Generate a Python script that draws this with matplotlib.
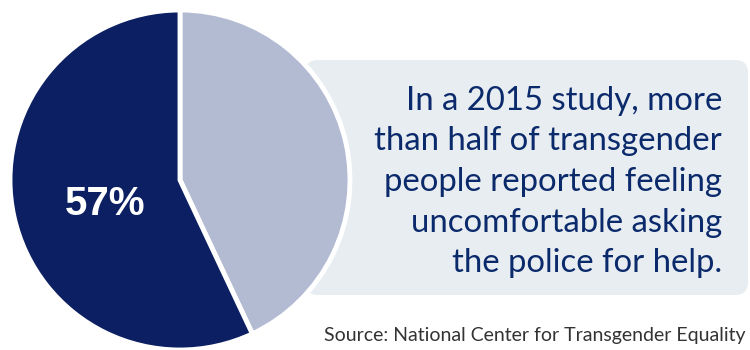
import matplotlib
matplotlib.use("Agg")
import matplotlib.pyplot as plt
from matplotlib.patches import FancyBboxPatch

# Share of transgender respondents uncomfortable asking police for help
labels = ["Comfortable / other", "Uncomfortable"]
shares = [43, 57]
slice_colors = ["#b3bbd3", "#0b1f62"]
callout_lines = [
    "In a 2015 study, more",
    "than half of transgender",
    "people reported feeling",
    "uncomfortable asking",
    "the police for help.",
]
source_text = "Source: National Center for Transgender Equality"

W, H = 750, 350
fig = plt.figure(figsize=(W / 100, H / 100), dpi=100)
fig.patch.set_facecolor("white")

# Background callout panel (pixel coordinates, origin top-left)
bg = fig.add_axes([0, 0, 1, 1])
bg.set_xlim(0, W)
bg.set_ylim(H, 0)
bg.axis("off")
panel = FancyBboxPatch((305, 60), 443, 235,
                       boxstyle="round,pad=0,rounding_size=13",
                       facecolor="#e8edf1", edgecolor="none")
bg.add_patch(panel)

text_color = "#0b2a6b"
for i, line in enumerate(callout_lines):
    bg.text(722, 101 + i * 40.5, line, ha="right", va="center",
            fontsize=23.7, family="Lato", color=text_color)

bg.text(745, 336, source_text, ha="right", va="center",
        fontsize=14, family="Lato", color="#333333")

# Pie chart on top of the panel
cx, cy, r = 180, 180, 170
pie_ax = fig.add_axes([(cx - r) / W, (H - cy - r) / H, 2 * r / W, 2 * r / H])
pie_ax.pie(shares, colors=slice_colors, startangle=90, counterclock=False,
           wedgeprops=dict(edgecolor="white", linewidth=3.5))
pie_ax.set_xlim(-1, 1)
pie_ax.set_ylim(-1, 1)
pie_ax.set_aspect("equal")
pie_ax.text(-0.44, -0.14, f"{shares[1]}%", ha="center", va="center",
            fontsize=29, fontweight="bold", family="Liberation Sans",
            color="white")

fig.savefig("out.png", dpi=100, facecolor="white")
